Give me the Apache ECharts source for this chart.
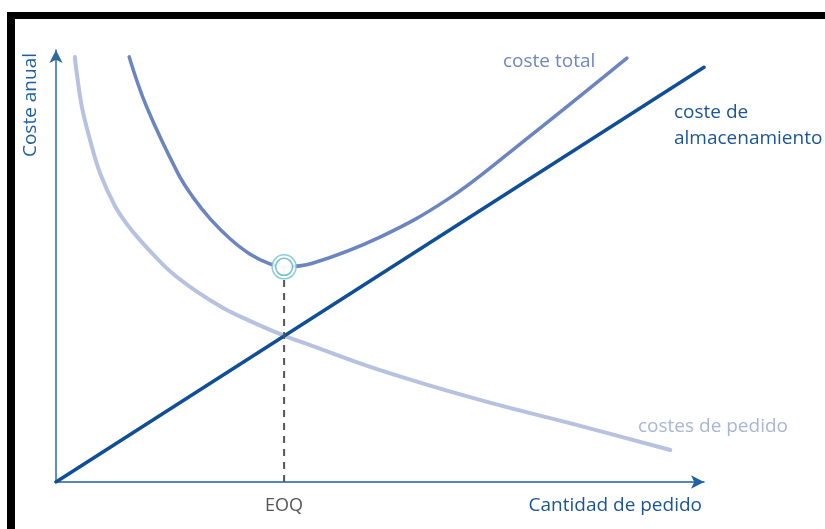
<!DOCTYPE html>
<html>
<head>
<meta charset="utf-8">
<script src="https://cdn.jsdelivr.net/npm/echarts@6/dist/echarts.min.js"></script>
<style>
  html, body { margin: 0; padding: 0; background: #fff; }
  #chart { width: 825px; height: 529px; }
</style>
</head>
<body>
<div id="chart"></div>
<script>
// Order quantity (x) vs. annual cost (y), both on a 0–100 relative scale
const storageCost = [[0, 0], [100, 96]];
const orderCost = [
  [2.9, 98.4], [3.2, 94.7], [4.0, 86.8], [5.25, 79.2], [6.8, 71.5], [9.1, 63.9],
  [11.4, 58.8], [14.5, 53.5], [17.6, 48.8], [21.8, 44.0], [25.8, 40.3],
  [29.9, 37.3], [35.0, 34.0], [39.2, 31.7], [50.0, 25.9], [65.4, 19.0],
  [80.9, 13.0], [94.8, 7.4]
];
const totalCost = [
  [11.3, 98.4], [14.0, 86.8], [18.8, 71.5], [21.1, 66.0], [23.8, 60.9],
  [26.9, 56.25], [29.9, 52.8], [33.0, 50.5], [35.2, 49.8], [39.7, 50.7],
  [50.0, 56.7], [60.3, 65.3], [70.5, 76.9], [88.1, 98.1]
];
const eoq = 35.2;
const eoqCost = 49.8;
const tickLabels = ['EOQ'];

const font = '"Open Sans", "Noto Sans", sans-serif';

const chart = echarts.init(document.getElementById('chart'), null, { renderer: 'canvas' });

chart.setOption({
  animation: false,
  backgroundColor: '#ffffff',
  grid: { left: 56, right: 121, top: 50, bottom: 47 },
  xAxis: {
    type: 'value', min: 0, max: 100,
    splitLine: { show: false },
    axisTick: { show: false },
    axisLine: {
      lineStyle: { color: '#1f5fa8', width: 1.5 },
      symbol: ['none', 'arrow'], symbolSize: [10, 13]
    },
    axisLabel: {
      customValues: [eoq],
      formatter: v => (Math.abs(v - eoq) < 1e-6 ? tickLabels[0] : ''),
      color: '#555555', fontFamily: font, fontSize: 18, margin: 15
    }
  },
  yAxis: {
    type: 'value', min: 0, max: 100,
    splitLine: { show: false },
    axisTick: { show: false },
    axisLabel: { show: false },
    axisLine: {
      lineStyle: { color: '#2d6b9c', width: 1.5 },
      symbol: ['none', 'arrow'], symbolSize: [10, 13]
    }
  },
  series: [
    {
      name: 'costes de pedido', type: 'line', data: orderCost,
      smooth: 0.4, showSymbol: false, z: 2,
      lineStyle: { color: '#b7c2e1', width: 4, cap: 'round' }
    },
    {
      name: 'coste de almacenamiento', type: 'line', data: storageCost,
      showSymbol: false, z: 3,
      lineStyle: { color: '#0f4f98', width: 3.5, cap: 'round' }
    },
    {
      name: 'coste total', type: 'line', data: totalCost,
      smooth: 0.4, showSymbol: false, z: 3,
      lineStyle: { color: '#6a85bf', width: 3.5, cap: 'round' }
    },
    {
      name: 'EOQ', type: 'line', data: [[eoq, 0], [eoq, eoqCost]],
      showSymbol: false, z: 4,
      lineStyle: { color: '#555555', width: 2, type: [7, 6] }
    },
    {
      type: 'scatter', data: [[eoq, eoqCost]], z: 5,
      symbol: 'circle', symbolSize: 24,
      itemStyle: { color: '#ffffff', borderColor: '#6cc2d0', borderWidth: 1.5 }
    },
    {
      type: 'scatter', data: [[eoq, eoqCost]], z: 6,
      symbol: 'circle', symbolSize: 17,
      itemStyle: { color: '#ffffff', borderColor: '#4fb2c3', borderWidth: 1.5 }
    }
  ],
  graphic: [
    // frame edges
    { type: 'rect', shape: { x: 7, y: 12, width: 818, height: 7 }, style: { fill: '#000' }, silent: true },
    { type: 'rect', shape: { x: 7, y: 12, width: 8, height: 517 }, style: { fill: '#000' }, silent: true },
    // axis titles
    { type: 'text', x: 31, y: 105, rotation: Math.PI / 2,
      style: { text: 'Coste anual', fill: '#1f5fa0', font: '19px ' + font, align: 'center', verticalAlign: 'middle' } },
    { type: 'text', x: 702, y: 506,
      style: { text: 'Cantidad de pedido', fill: '#1a5596', font: '19px ' + font, align: 'right', verticalAlign: 'middle' } },
    // curve labels
    { type: 'text', x: 503, y: 62,
      style: { text: 'coste total', fill: '#6f88c0', font: '19px ' + font, align: 'left', verticalAlign: 'middle' } },
    { type: 'text', x: 674, y: 113,
      style: { text: 'coste de', fill: '#1a5596', font: '19px ' + font, align: 'left', verticalAlign: 'middle' } },
    { type: 'text', x: 674, y: 139,
      style: { text: 'almacenamiento', fill: '#1a5596', font: '19px ' + font, align: 'left', verticalAlign: 'middle' } },
    { type: 'text', x: 638, y: 427,
      style: { text: 'costes de pedido', fill: '#a9b5d6', font: '19px ' + font, align: 'left', verticalAlign: 'middle' } }
  ]
});
</script>
</body>
</html>
